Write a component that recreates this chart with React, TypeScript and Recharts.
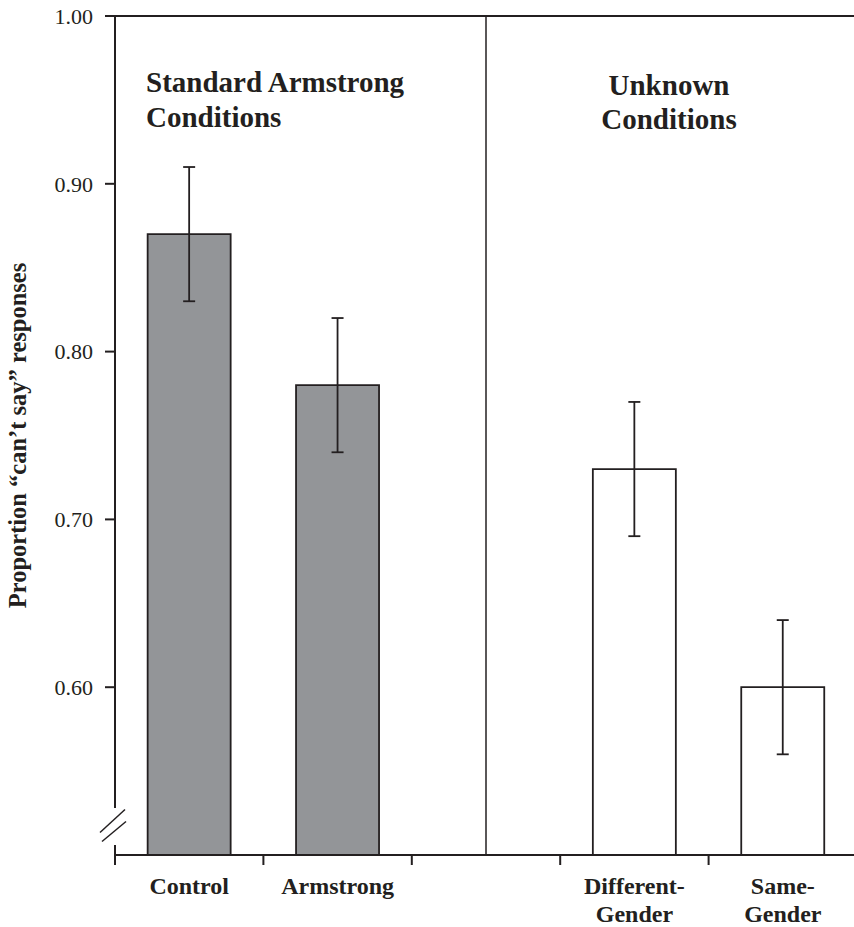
import React from "react";
import { BarChart, Bar, XAxis, YAxis, ErrorBar, Cell, ReferenceLine } from "recharts";

const INK = "#231f20";
const GRAY = "#939598";
const FONT = "Liberation Serif";

// one slot per band; "gap" is the empty band where the divider sits
const categories = ["Control", "Armstrong", "gap", "Different-Gender", "Same-Gender"];
const tickLabels = [["Control"], ["Armstrong"], [], ["Different-", "Gender"], ["Same-", "Gender"]];
const proportions = [0.87, 0.78, null, 0.73, 0.6];
const errorMargins = [0.04, 0.04, null, 0.04, 0.04];
const conditions = ["standard", "standard", null, "unknown", "unknown"];
const yTicks = [0.6, 0.7, 0.8, 0.9, 1.0];
const leftHeading = ["Standard Armstrong", "Conditions"];
const rightHeading = ["Unknown", "Conditions"];
const yTitle = "Proportion \u201ccan\u2019t say\u201d responses";

const data = categories.map((name, i) => ({
  name,
  value: proportions[i],
  err: errorMargins[i],
  condition: conditions[i],
}));

const W = 854;
const H = 927;
const Y_AXIS_W = 115;
const MARGIN = { top: 16, right: -3, bottom: 12, left: 0 };
// width of one category band; the tick axis is shifted by one band so its ticks sit on band edges
const bandW = (W - MARGIN.left - MARGIN.right - Y_AXIS_W) / categories.length;

function CategoryTick(props: any) {
  const { x, y, payload } = props;
  const lines = tickLabels[categories.indexOf(payload.value)] || [];
  return (
    <text x={x} y={y} textAnchor="middle" fontSize={24} fontWeight="bold" fontFamily={FONT} fill={INK}>
      {lines.map((l, i) => (
        <tspan key={i} x={x} dy={i === 0 ? 38 : 28}>
          {l}
        </tspan>
      ))}
    </text>
  );
}

const NoLabel = () => <g />;

// y axis line with the break marks near the bottom, plus the rotated title
function YAxisDecor(props: any) {
  const vb = props.viewBox || {};
  const ax = vb.x + vb.width;
  const top = vb.y;
  const bottom = vb.y + vb.height;
  const breakMid = top + vb.height * 0.966;
  const half = vb.height * 0.022;
  const cy = top + vb.height / 2;
  return (
    <g>
      <line x1={ax} y1={top} x2={ax} y2={breakMid - half} stroke={INK} strokeWidth={2} />
      <line x1={ax} y1={breakMid + half} x2={ax} y2={bottom} stroke={INK} strokeWidth={2} />
      <line x1={ax - 15} y1={breakMid + 6} x2={ax + 10} y2={breakMid - 17} stroke={INK} strokeWidth={1.5} />
      <line x1={ax - 13} y1={breakMid + 15} x2={ax + 11} y2={breakMid - 5} stroke={INK} strokeWidth={1.5} />
      <text
        x={26}
        y={cy}
        transform={`rotate(-90, 26, ${cy})`}
        textAnchor="middle"
        fontSize={24.5}
        fontWeight="bold"
        fontFamily={FONT}
        fill={INK}
      >
        {yTitle}
      </text>
    </g>
  );
}

export default function App() {
  return (
    <div style={{ position: "absolute", left: 0, top: 0, width: W, height: H, fontFamily: FONT, background: "#fff" }}>
      <BarChart width={W} height={H} data={data} margin={MARGIN} barCategoryGap="22%">
        <XAxis
          xAxisId="b"
          dataKey="name"
          height={59}
          interval={0}
          axisLine={false}
          tickLine={false}
          tickSize={0}
          tickMargin={0}
          tick={CategoryTick}
        />
        <XAxis
          xAxisId="a"
          dataKey="name"
          type="category"
          scale="point"
          padding={{ left: 0, right: bandW }}
          interval={0}
          tick={NoLabel}
          tickSize={10}
          tickLine={{ stroke: INK, strokeWidth: 2 }}
          height={1}
          stroke={INK}
          strokeWidth={2}
        />
        <YAxis
          width={Y_AXIS_W}
          domain={[0.5, 1]}
          ticks={yTicks}
          allowDataOverflow
          axisLine={false}
          tickSize={10}
          tickMargin={12}
          tickLine={{ stroke: INK, strokeWidth: 2 }}
          tick={{ fill: INK, fontSize: 22, fontFamily: FONT }}
          tickFormatter={(v: number) => v.toFixed(2)}
          label={{ content: (p: any) => <YAxisDecor {...p} /> }}
        />
        <ReferenceLine xAxisId="b" y={1} stroke={INK} strokeWidth={2} />
        <ReferenceLine xAxisId="b" x="gap" stroke={INK} strokeWidth={1.5} />
        <Bar xAxisId="b" dataKey="value" stroke={INK} strokeWidth={1.8} isAnimationActive={false}>
          {data.map((d, i) => (
            <Cell key={i} fill={d.condition === "standard" ? GRAY : "#ffffff"} />
          ))}
          <ErrorBar dataKey="err" width={6} stroke={INK} strokeWidth={1.8} isAnimationActive={false} />
        </Bar>
      </BarChart>
      <svg width={W} height={H} style={{ position: "absolute", left: 0, top: 0, pointerEvents: "none" }}>
        <text x={146} y={92} fontSize={29} fontWeight="bold" fontFamily={FONT} fill={INK}>
          {leftHeading.map((l, i) => (
            <tspan key={i} x={146} dy={i === 0 ? 0 : 35}>
              {l}
            </tspan>
          ))}
        </text>
        <text x={669} y={95} fontSize={29} fontWeight="bold" fontFamily={FONT} fill={INK} textAnchor="middle">
          {rightHeading.map((l, i) => (
            <tspan key={i} x={669} dy={i === 0 ? 0 : 34}>
              {l}
            </tspan>
          ))}
        </text>
      </svg>
    </div>
  );
}
